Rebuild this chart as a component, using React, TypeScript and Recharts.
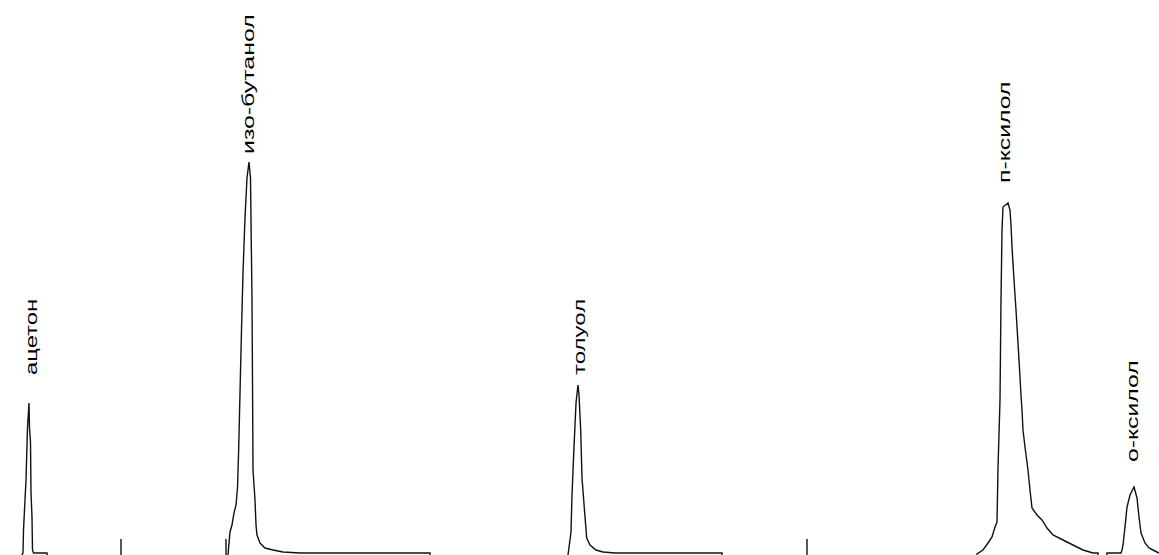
import React from "react";
import { ComposedChart, Line, Scatter, XAxis, YAxis, ReferenceLine } from "recharts";

// retention time (s) and detector signal (arb. units); -15 = off-scale below baseline window
const leadIn: [number, number][] = [[0, -15], [21, -15]];
const acetoneRegion: [number, number][] = [
  [22, -2], [23, 0], [23.5, 23], [26, 73], [27.5, 125], [29, 150], [29.5, 125], [30.5, 111],
  [31, 60], [32, 36], [32.5, 3], [33.5, 0], [47, 0], [48, -15], [227, -15],
];
const isobutanolRegion: [number, number][] = [
  [228, -2], [230, 21], [232, 28], [234, 40], [236, 48], [237.5, 65], [238.7, 105], [240, 160],
  [241.5, 223], [243, 280], [245, 335], [247, 375], [249, 391], [250.5, 375], [251, 333],
  [252, 253], [252.5, 173], [253, 83], [255, 53], [256, 28], [257, 18], [260, 10], [265, 5],
  [273, 3], [283, 1], [300, 0], [430, 0], [431, -15], [567, -15],
];
const tolueneRegion: [number, number][] = [
  [568, -2], [571, 21], [572, 58], [574, 106], [576, 150], [578, 168], [579, 158], [580.7, 123],
  [582, 75], [584.7, 40], [586.7, 15], [590, 8], [596, 3], [603, 1], [615, 0], [722, 0],
  [723, -15], [976, -15],
];
const xyleneRegion: [number, number][] = [
  [977, -1], [983, 3], [988, 10], [992, 16], [995, 26], [997, 31], [998, 85], [1000, 153],
  [1001, 253], [1002, 323], [1003, 346], [1008, 350], [1010, 343], [1011, 328], [1012, 306],
  [1014, 273], [1016, 243], [1019, 193], [1021, 158], [1022, 143], [1023, 123], [1025, 106],
  [1028, 83], [1030, 63], [1032, 45], [1037, 38], [1042, 33], [1047, 25], [1053, 18],
  [1063, 13], [1073, 8], [1083, 3], [1093, 0], [1098, 0], [1099, -15], [1106, -15], [1107, 0],
  [1121, 0], [1122, 3], [1123, 8], [1125, 26], [1127, 46], [1130, 58], [1134, 66], [1137, 55],
  [1139, 36], [1141, 20], [1145, 10], [1149, 5], [1155, 2], [1159, 0],
];

const eventMarks = [121, 226, 807];
const eventMarkHeight = 14;

const peakNames = ["ацетон", "изо-бутанол", "толуол", "п-ксилол", "о-ксилол"];
const peakLabelTime = [31, 248, 579, 1004, 1132];
const peakLabelSignal = [178, 399, 178, 370, 91];

const trace = [...leadIn, ...acetoneRegion, ...isobutanolRegion, ...tolueneRegion, ...xyleneRegion].map(
  ([t, v]) => ({ t, v })
);
const labels = peakNames.map((name, i) => ({ name, t: peakLabelTime[i], v: peakLabelSignal[i] }));

const CHAR_ADVANCE = 12.7;

const LabelShape = (props: any) => {
  const { cx, cy, payload } = props;
  return (
    <text
      x={0}
      y={0}
      transform={`translate(${cx} ${cy}) rotate(-90)`}
      textAnchor="start"
      dominantBaseline="central"
      fontFamily="Liberation Sans, Arial, sans-serif"
      fontSize={17}
      textLength={payload.name.length * CHAR_ADVANCE}
      lengthAdjust="spacingAndGlyphs"
      fill="#000"
    >
      {payload.name}
    </text>
  );
};

export default function App() {
  return (
    <div style={{ position: "absolute", left: 0, top: 0, background: "#fff" }}>
      <ComposedChart width={1159} height={555} margin={{ top: 0, right: 0, bottom: 0, left: 0 }}>
        <XAxis dataKey="t" type="number" domain={[0, 1159]} hide allowDataOverflow />
        <YAxis type="number" domain={[-2, 553]} hide allowDataOverflow />
        <Line
          data={trace}
          dataKey="v"
          type="linear"
          stroke="#111"
          strokeWidth={1.4}
          dot={false}
          isAnimationActive={false}
        />
        {eventMarks.map((t) => (
          <ReferenceLine
            key={t}
            segment={[{ x: t, y: -2 }, { x: t, y: eventMarkHeight }]}
            stroke="#111"
            strokeWidth={1.4}
          />
        ))}
        <Scatter data={labels} dataKey="v" shape={LabelShape} isAnimationActive={false} />
      </ComposedChart>
    </div>
  );
}
